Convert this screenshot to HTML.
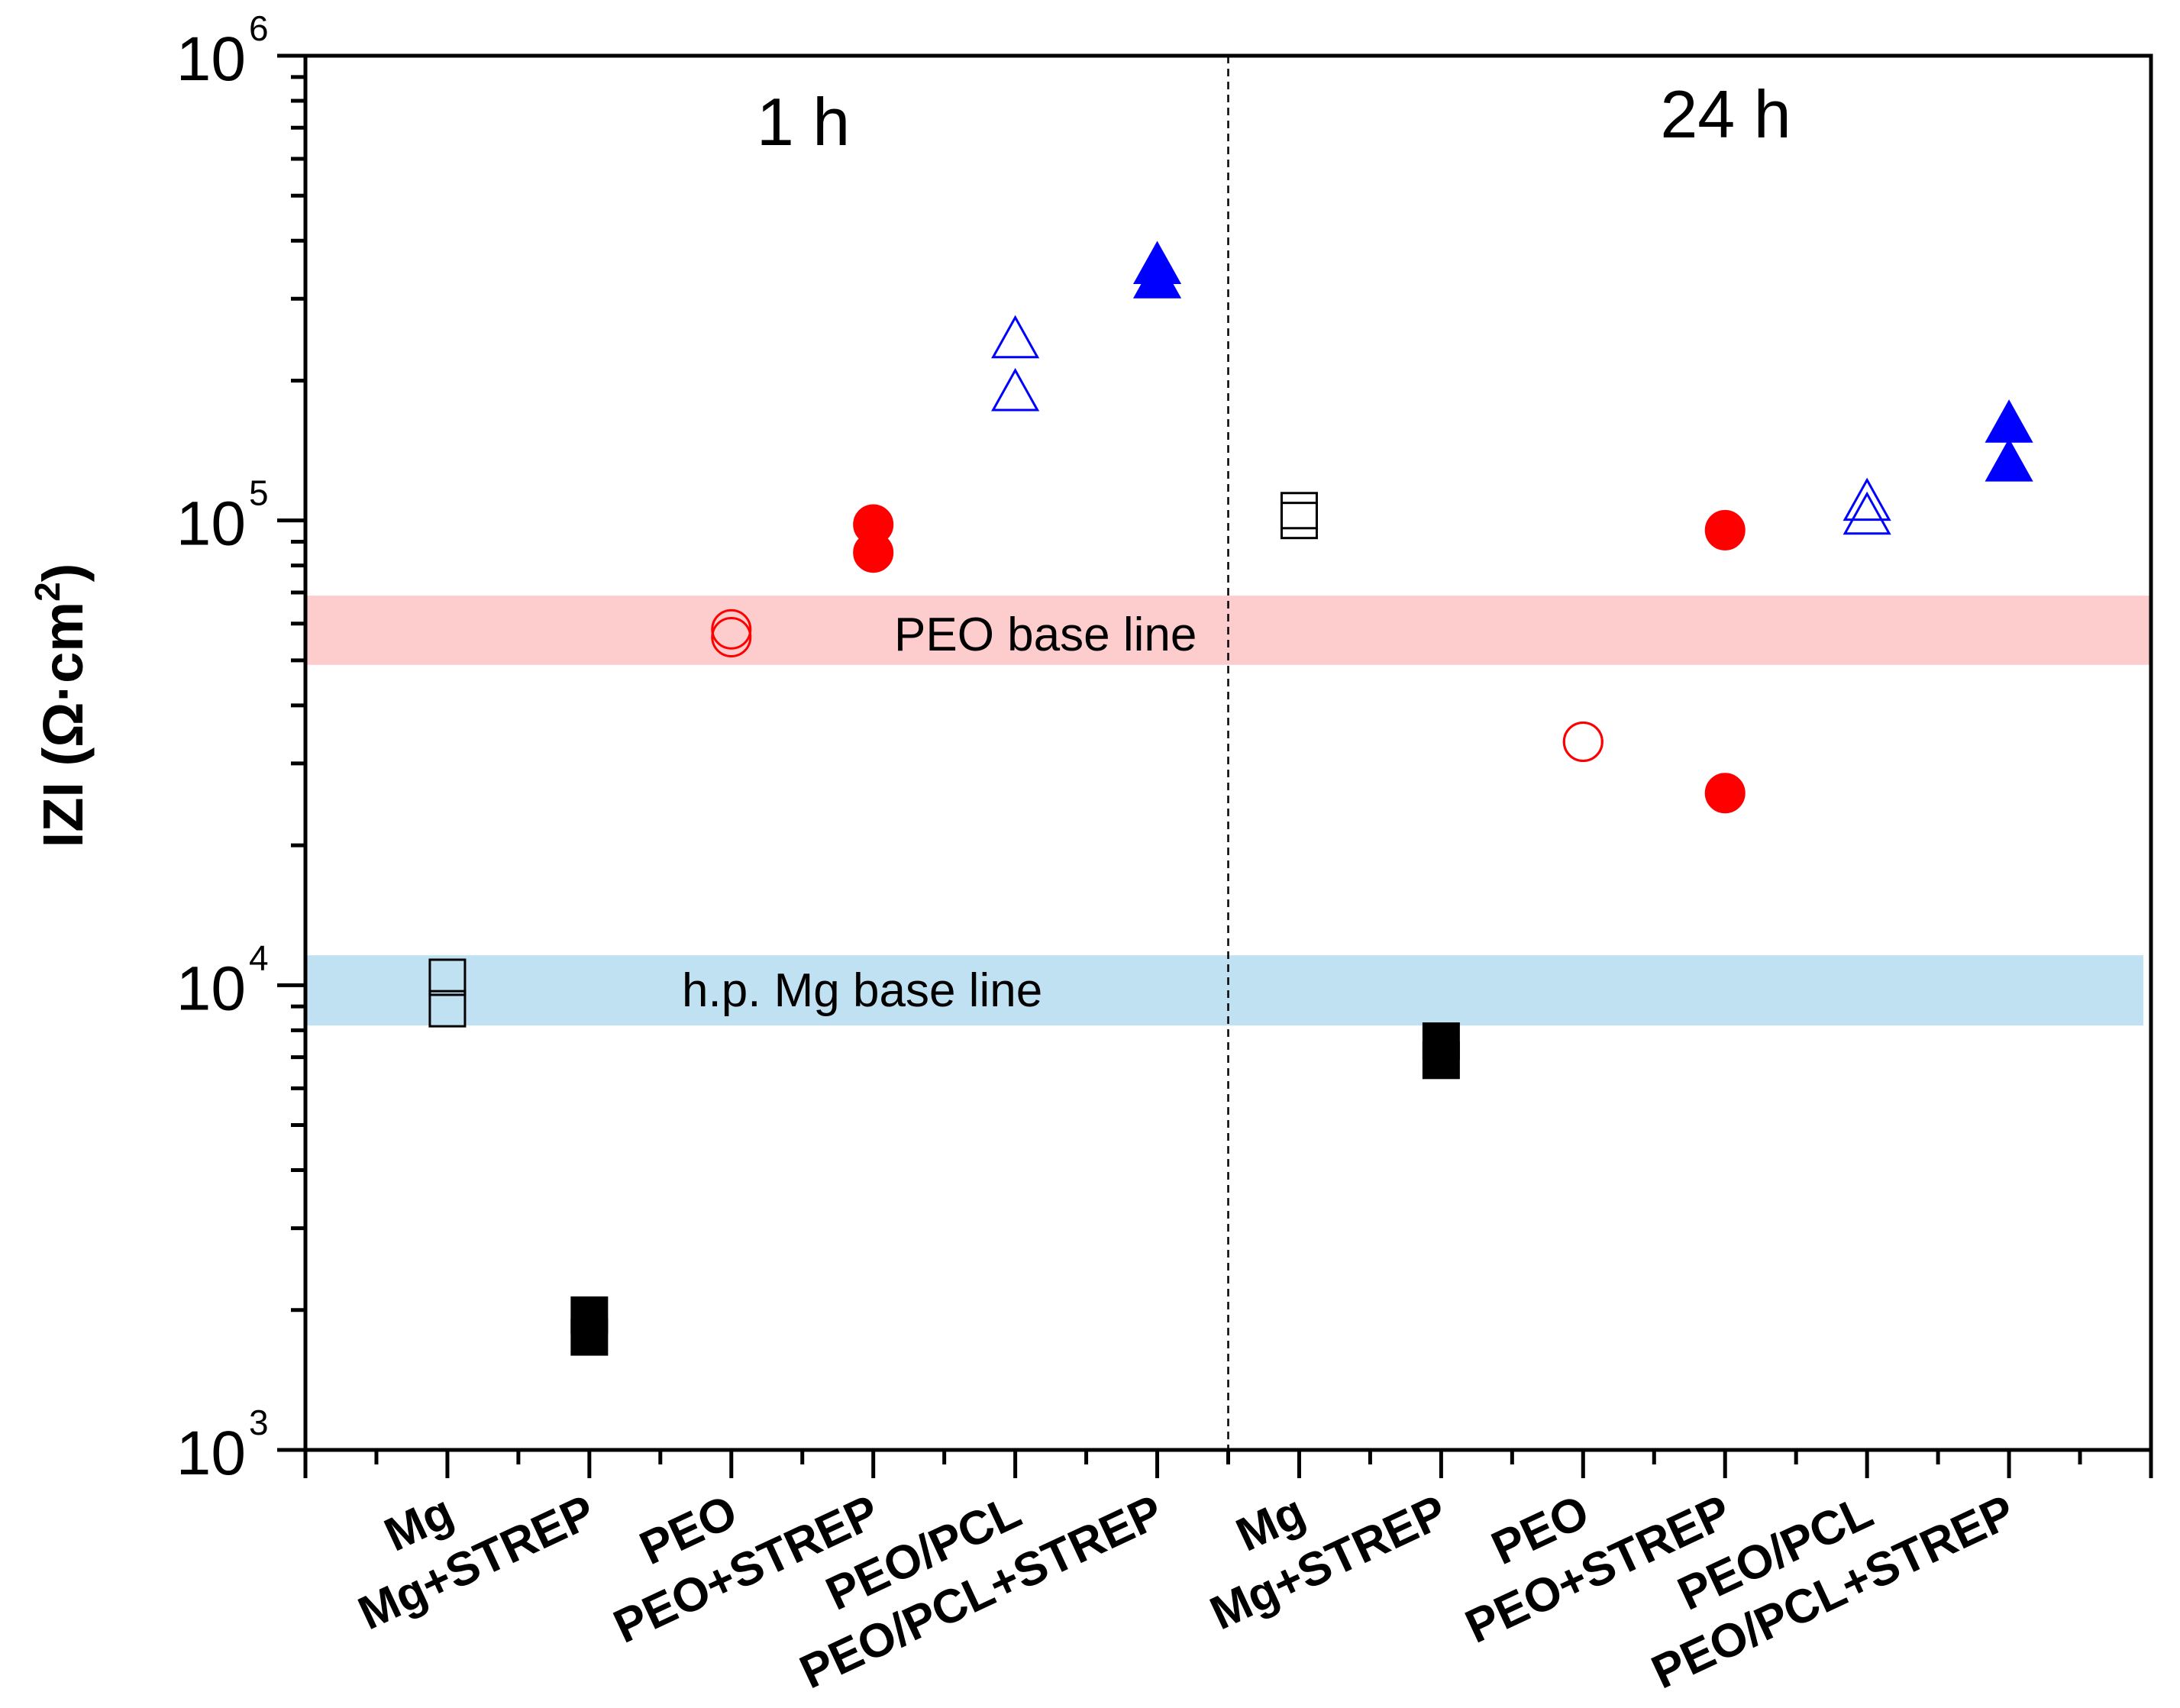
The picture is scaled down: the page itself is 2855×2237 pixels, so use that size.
<!DOCTYPE html>
<html><head><meta charset="utf-8"><style>
html,body{margin:0;padding:0;background:#fff;}
svg{display:block;font-family:"Liberation Sans",sans-serif;}
</style></head><body>
<svg id="chart" width="2855" height="2237" viewBox="0 0 2855 2237" xmlns="http://www.w3.org/2000/svg">
<g id="bands"></g>
<g id="axes"></g>
<g id="marks"></g>
<text transform="translate(108,924) rotate(-90)" text-anchor="middle" font-size="74" font-weight="bold">IZI (Ω·cm<tspan font-size="46" dy="-30">2</tspan><tspan dy="30">)</tspan></text>
<text x="1052" y="190" text-anchor="middle" font-size="88">1 h</text>
<text x="2260" y="180" text-anchor="middle" font-size="88">24 h</text>
<text x="1171" y="852" font-size="62">PEO base line</text>
<text x="893" y="1318" font-size="62">h.p. Mg base line</text>
</svg>
<script>
const categories = ["Mg","Mg+STREP","PEO","PEO+STREP","PEO/PCL","PEO/PCL+STREP","Mg","Mg+STREP","PEO","PEO+STREP","PEO/PCL","PEO/PCL+STREP"];
const markerTypes = ["sqOpen","sqFill","circOpen","circFill","triOpen","triFill","sqOpen","sqFill","circOpen","circFill","triOpen","triFill"];
const valuesA = [10400, 1950, 58300, 98000, 243000, 351000, 105000, 7580, 33400, 95300, 108600, 160000];
const valuesB = [8900, 1750, 56100, 85300, 187000, 327000, 100000, 6890, 33400, 25900, 101400, 132000];
const yTickExps = [3,4,5,6];
const bandPEO = [48900, 68900];
const bandMg = [8190, 11600];
const separatorX = [6.5];

const NS="http://www.w3.org/2000/svg";
const L=400,R=2817,T=73,B=1899;
const xs=v=>L+(R-L)*v/13;
const ys=v=>B-(Math.log10(v)-3)*(B-T)/3;
function mk(tag,attrs,parent){const e=document.createElementNS(NS,tag);for(const k in attrs)e.setAttribute(k,attrs[k]);parent.appendChild(e);return e;}
const axes=document.getElementById('axes'),marks=document.getElementById('marks'),bands=document.getElementById('bands');

let b1=mk('rect',{x:L,y:ys(bandPEO[1]),width:R-L,height:ys(bandPEO[0])-ys(bandPEO[1]),fill:'#fdcccc'},bands);


let b2=mk('rect',{x:L,y:ys(bandMg[1]),width:R-L-10,height:ys(bandMg[0])-ys(bandMg[1]),fill:'#c0e1f2'},bands);



separatorX.forEach(s=>{
 let d=mk('line',{x1:xs(s),x2:xs(s),y1:T,y2:B,stroke:'#000','stroke-width':2.5,'stroke-dasharray':'10,7'},axes);
 
 
});

let fr=mk('rect',{x:L,y:T,width:R-L,height:B-T,fill:'none',stroke:'#000','stroke-width':5},axes);



for(let i=0;i<=13;i++){
 mk('line',{x1:xs(i),x2:xs(i),y1:B,y2:B+37,stroke:'#000','stroke-width':5},axes);
 if(i<13) mk('line',{x1:xs(i+0.5),x2:xs(i+0.5),y1:B,y2:B+19,stroke:'#000','stroke-width':5},axes);
}
yTickExps.forEach((e,idx)=>{
 const y=ys(Math.pow(10,e));
 mk('line',{x1:L-37,x2:L,y1:y,y2:y,stroke:'#000','stroke-width':5},axes);
 const t=mk('text',{x:322,y:y+32,'text-anchor':'end','font-size':82},axes);
 
 
 t.textContent='10';
 const s=mk('text',{x:326,y:y-20,'font-size':46},axes);
 s.textContent=String(e);
 if(idx<yTickExps.length-1){
  for(let m=2;m<=9;m++){const yy=ys(m*Math.pow(10,e));mk('line',{x1:L-19,x2:L,y1:yy,y2:yy,stroke:'#000','stroke-width':5},axes);}
 }
});
categories.forEach((c,i)=>{
 const x=xs(i+1)+12,y=1995;
 const t=mk('text',{x:x,y:y,'text-anchor':'end','font-size':62,'font-weight':'bold',transform:`rotate(-25 ${x} ${y})`},axes);
 
 
 t.textContent=c;
});
function marker(type,cx,cy){
 const red='#ff0000',blue='#0000ff';
 let e;
 if(type.startsWith('sq')){
  const s=46;e=mk('rect',{x:cx-s/2,y:cy-s/2,width:s,height:s,fill:type==='sqFill'?'#000':'none',stroke:'#000','stroke-width':3},marks);
 }else if(type.startsWith('circ')){
  e=mk('circle',{cx:cx,cy:cy,r:25,fill:type==='circFill'?red:'none',stroke:red,'stroke-width':3},marks);
 }else{
  const w=58,h=52;
  e=mk('polygon',{points:`${cx},${cy-h*0.6} ${cx-w/2},${cy+h*0.4} ${cx+w/2},${cy+h*0.4}`,fill:type==='triFill'?blue:'none',stroke:blue,'stroke-width':3},marks);
 }
 return e;
}
categories.forEach((c,i)=>{
 [valuesA[i],valuesB[i]].forEach(v=>{
  const e=marker(markerTypes[i],xs(i+1),ys(v));
  
  
 });
});
</script>
</body></html>
